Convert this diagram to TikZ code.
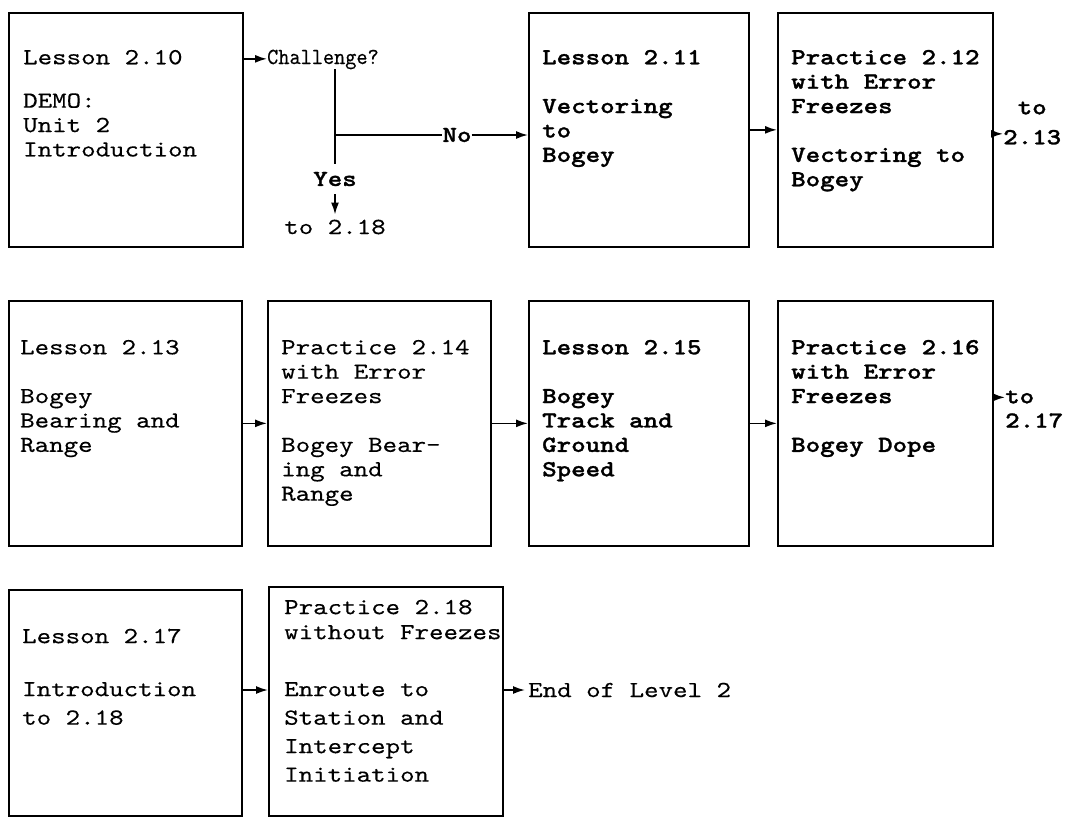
\documentclass[tikz,border=0pt]{standalone}
\usepackage{fontspec}
\usepackage{graphicx}
\usepackage{tikz}
\usetikzlibrary{arrows.meta}
\newfontfamily\tw[FakeStretch=1.2, FakeBold=0.3]{lmmono10-regular.otf}
\newfontfamily\twb[FakeStretch=1.2, FakeBold=1.2]{lmmonolt10-bold.otf}
\newcommand{\twsize}{\fontsize{23pt}{24.4pt}\selectfont}
\newcommand{\twwide}{\fontsize{23pt}{28.5pt}\selectfont}
\tikzset{
	box/.style={draw, line width=1.7pt, anchor=north west, inner sep=0pt},
	txt/.style={anchor=north west, inner sep=0pt, align=left, font=\tw\twsize},
	txtb/.style={txt, font=\twb\twsize},
	txtw/.style={txt, font=\tw\twwide},
	lbl/.style={inner sep=0pt, font=\tw\twsize},
	lblb/.style={lbl, font=\twb\twsize},
	arr/.style={line width=1.7pt, -{Latex[length=12pt,width=8pt]}},
	conn/.style={line width=1.7pt}
}

\begin{document}
\begin{tikzpicture}[x=1pt, y=1pt]
	\useasboundingbox (0,0) rectangle (1065,-817);
	
	% row 1
	\node[box, minimum width=234pt, minimum height=234pt] (l210) at (8,-12) {};
	\node[txt] (l210t) at ([shift={(15,-35)}]l210.north west) {\strut Lesson 2.10\\[19pt]DEMO:\\Unit 2\\Introduction};
	
	\node[lbl, anchor=base west] (chal) at (267,-64) {\scalebox{0.77}[1]{Challenge?}};
	\coordinate (sp) at (335,-135);
	\node[lblb, inner ysep=8pt] (yes) at (335,-179) {Yes};
	\node[lbl, inner ysep=5pt] (to218) at (335,-227) {to 2.18};
	\node[lblb] (no) at (457,-135) {No};
	
	\node[box, minimum width=220pt, minimum height=234pt] (l211) at (528,-12) {};
	\node[txtb] (l211t) at ([shift={(14,-35)}]l211.north west) {\strut Lesson 2.11\\[24.4pt]Vectoring\\to\\Bogey};
	
	\node[box, minimum width=215pt, minimum height=234pt] (l212) at (777,-12) {};
	\node[txtb] (l212t) at ([shift={(14,-35)}]l212.north west) {\strut Practice 2.12\\with Error\\Freezes\\[24.4pt]Vectoring to\\Bogey};
	\node[txtb] (t213) at (1003,-97) {\strut~to\\[5.6pt]2.13};
	
	\draw[arr] ([yshift=3pt]chal.mid west -| l210.east) -- ([yshift=3pt]chal.mid west);
	\draw[conn] (chal.south -| sp) -- (yes.north);
	\draw[conn] (sp) -- (no.west);
	\draw[arr] (no.east) -- (no.east -| l211.west);
	\draw[arr] (yes.south) -- (to218.north);
	\draw[arr] (l211.east) -- (l212.west);
	\draw[arr] ([yshift=-4pt]l212.east) -- ([yshift=-4pt]l212.east -| t213.west);
	
	% row 2
	\node[box, minimum width=233pt, minimum height=245pt] (l213) at (8,-300) {};
	\node[txt] (l213t) at ([shift={(12,-37)}]l213.north west) {\strut Lesson 2.13\\[24.4pt]Bogey\\Bearing and\\Range};
	
	\node[box, minimum width=223pt, minimum height=245pt] (l214) at (267,-300) {};
	\node[txt] (l214t) at ([shift={(14,-37)}]l214.north west) {\strut Practice 2.14\\with Error\\Freezes\\[24.4pt]Bogey Bear-\\ing and\\Range};
	
	\node[box, minimum width=220pt, minimum height=245pt] (l215) at (528,-300) {};
	\node[txtb] (l215t) at ([shift={(14,-37)}]l215.north west) {\strut Lesson 2.15\\[24.4pt]Bogey\\Track and\\Ground\\Speed};
	
	\node[box, minimum width=215pt, minimum height=245pt] (l216) at (777,-300) {};
	\node[txtb] (l216t) at ([shift={(14,-37)}]l216.north west) {\strut Practice 2.16\\with Error\\Freezes\\[24.4pt]Bogey Dope};
	\node[txtb] (t217) at (1005,-386) {\strut to\\2.17};
	
	\draw[arr] (l213.east) -- (l214.west);
	\draw[arr] (l214.east) -- (l215.west);
	\draw[arr] (l215.east) -- (l216.west);
	\draw[arr] ([yshift=26pt]l216.east) -- ([yshift=26pt]l216.east -| t217.west);
	
	% row 3
	\node[box, minimum width=233pt, minimum height=226pt] (l217) at (8,-589) {};
	\node[txtw] (l217t) at ([shift={(14,-34)}]l217.north west) {\strut Lesson 2.17\\[24.5pt]Introduction\\to 2.18};
	
	\node[box, minimum width=234pt, minimum height=229pt] (l218) at (268,-586) {};
	\node[txtw] (l218t) at ([shift={(16,-8)}]l218.north west) {\strut Practice 2.18\\[-3.5pt]without Freezes\\[28.5pt]Enroute to\\Station and\\Intercept\\Initiation};
	
	\node[lbl, anchor=west, inner xsep=3pt] (endl) at (525,-690) {End of Level 2};
	
	\draw[arr] (l217.east |- endl.west) -- (l218.west |- endl.west);
	\draw[arr] (l218.east |- endl.west) -- (endl.west);
	
\end{tikzpicture}
\end{document}
